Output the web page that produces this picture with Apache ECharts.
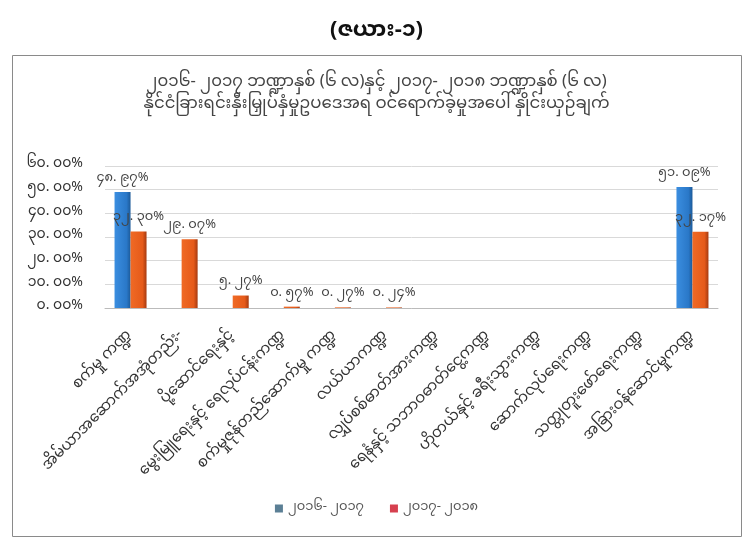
<!DOCTYPE html>
<html><head><meta charset="utf-8">
<script src="https://cdn.jsdelivr.net/npm/echarts@6/dist/echarts.min.js"></script>
<style>html,body{margin:0;padding:0;background:#fff}#c{width:753px;height:539px}</style>
</head><body><div id="c"></div>
<script>
const categories = [
  "စက်မှု ကဏ္ဍ",
  "အိမ်ယာအဆောက်အအုံတည်း-",
  "ပို့ဆောင်ရေးနှင့်",
  "မွေးမြူရေးနှင့် ရေလုပ်ငန်းကဏ္ဍ",
  "စက်မှုဇုန်တည်ဆောက်မှု ကဏ္ဍ",
  "လယ်ယာကဏ္ဍ",
  "လျှပ်စစ်ဓာတ်အားကဏ္ဍ",
  "ရေနံနှင့် သဘာဝဓာတ်ငွေ့ကဏ္ဍ",
  "ဟိုတယ်နှင့် ခရီးသွားကဏ္ဍ",
  "ဆောက်လုပ်ရေးကဏ္ဍ",
  "သတ္တုတူးဖော်ရေးကဏ္ဍ",
  "အခြားဝန်ဆောင်မှုကဏ္ဍ"
];
const seriesNames = ["၂၀၁၆- ၂၀၁၇", "၂၀၁၇- ၂၀၁၈"];
const values2016 = [48.97, 0, 0, 0, 0, 0, 0, 0, 0, 0, 0, 51.09];
const values2017 = [32.30, 29.07, 5.27, 0.57, 0.27, 0.24, 0, 0, 0, 0, 0, 32.17];
const pageTitle = "(ဇယား-၁)";
const chartTitle = "၂၀၁၆- ၂၀၁၇ ဘဏ္ဍာနှစ် (၆ လ)နှင့် ၂၀၁၇- ၂၀၁၈ ဘဏ္ဍာနှစ် (၆ လ)\nနိုင်ငံခြားရင်းနှီးမြှုပ်နှံမှုဥပဒေအရ ဝင်ရောက်ခဲ့မှုအပေါ် နှိုင်းယှဉ်ချက်";

const MY = "၀၁၂၃၄၅၆၇၈၉";
function toMy(s){ return String(s).replace(/[0-9]/g, d => MY[+d]); }
function pct(v){ const p = v.toFixed(2).split('.'); return toMy(p[0]) + '. ' + toMy(p[1]) + '%'; }

const FONT = '"Noto Sans Myanmar","Padauk","Myanmar Text","Noto Sans","DejaVu Sans",sans-serif';
const chart = echarts.init(document.getElementById('c'));
chart.setOption({
  backgroundColor: '#fff',
  textStyle: { fontFamily: FONT },
  title: [
    { text: pageTitle, left: 'center', top: 18, textStyle: { fontSize: 22, fontWeight: 'bold', color: '#111', fontFamily: FONT } },
    { text: chartTitle, left: 'center', top: 68, textStyle: { fontSize: 16.5, fontWeight: 'normal', color: '#444', lineHeight: 22, fontFamily: FONT } }
  ],
  graphic: [{ type: 'rect', shape: { x: 12.5, y: 55.5, width: 729, height: 481 }, style: { fill: 'none', stroke: '#8a8a8a', lineWidth: 1 }, z: -1 }],
  legend: {
    bottom: 19, left: 'center', itemWidth: 8, itemHeight: 8, itemGap: 26,
    textStyle: { fontSize: 13, color: '#555', fontFamily: FONT },
    data: [{ name: seriesNames[0], icon: 'rect', itemStyle: { color: '#5b7f95' } }, { name: seriesNames[1], icon: 'rect', itemStyle: { color: '#d6404f' } }]
  },
  grid: { left: 105, right: 35, top: 166, bottom: 231 },
  xAxis: {
    type: 'category', data: categories,
    axisLine: { lineStyle: { color: '#bbb' } }, axisTick: { show: false },
    axisLabel: { rotate: 45, interval: 0, fontSize: 15, color: '#333', margin: 26, fontFamily: FONT }
  },
  yAxis: {
    type: 'value', min: 0, max: 60, interval: 10,
    axisLine: { show: false }, axisTick: { show: false },
    splitLine: { lineStyle: { color: '#d9d9d9' } },
    axisLabel: { fontSize: 14, color: '#333', margin: 22, formatter: v => pct(v), fontFamily: FONT }
  },
  series: [
    { name: seriesNames[0], type: 'bar', data: values2016, barWidth: 16, barGap: '0%',
      itemStyle: { color: { type: 'linear', x: 0, y: 0, x2: 1, y2: 0, colorStops: [{offset:0,color:'#3b8ee0'},{offset:0.75,color:'#2a78c8'},{offset:1,color:'#1c5a99'}] } },
      label: { show: true, position: 'top', distance: 6, fontSize: 13, color: '#444', formatter: p => p.value > 0 ? pct(p.value) : '', fontFamily: FONT } },
    { name: seriesNames[1], type: 'bar', data: values2017, barWidth: 16,
      itemStyle: { color: { type: 'linear', x: 0, y: 0, x2: 1, y2: 0, colorStops: [{offset:0,color:'#f06a25'},{offset:0.75,color:'#e55a1a'},{offset:1,color:'#a53a10'}] } },
      label: { show: true, position: 'top', distance: 6, fontSize: 13, color: '#444', formatter: p => p.value > 0 ? pct(p.value) : '', fontFamily: FONT } }
  ]
});
</script></body></html>
